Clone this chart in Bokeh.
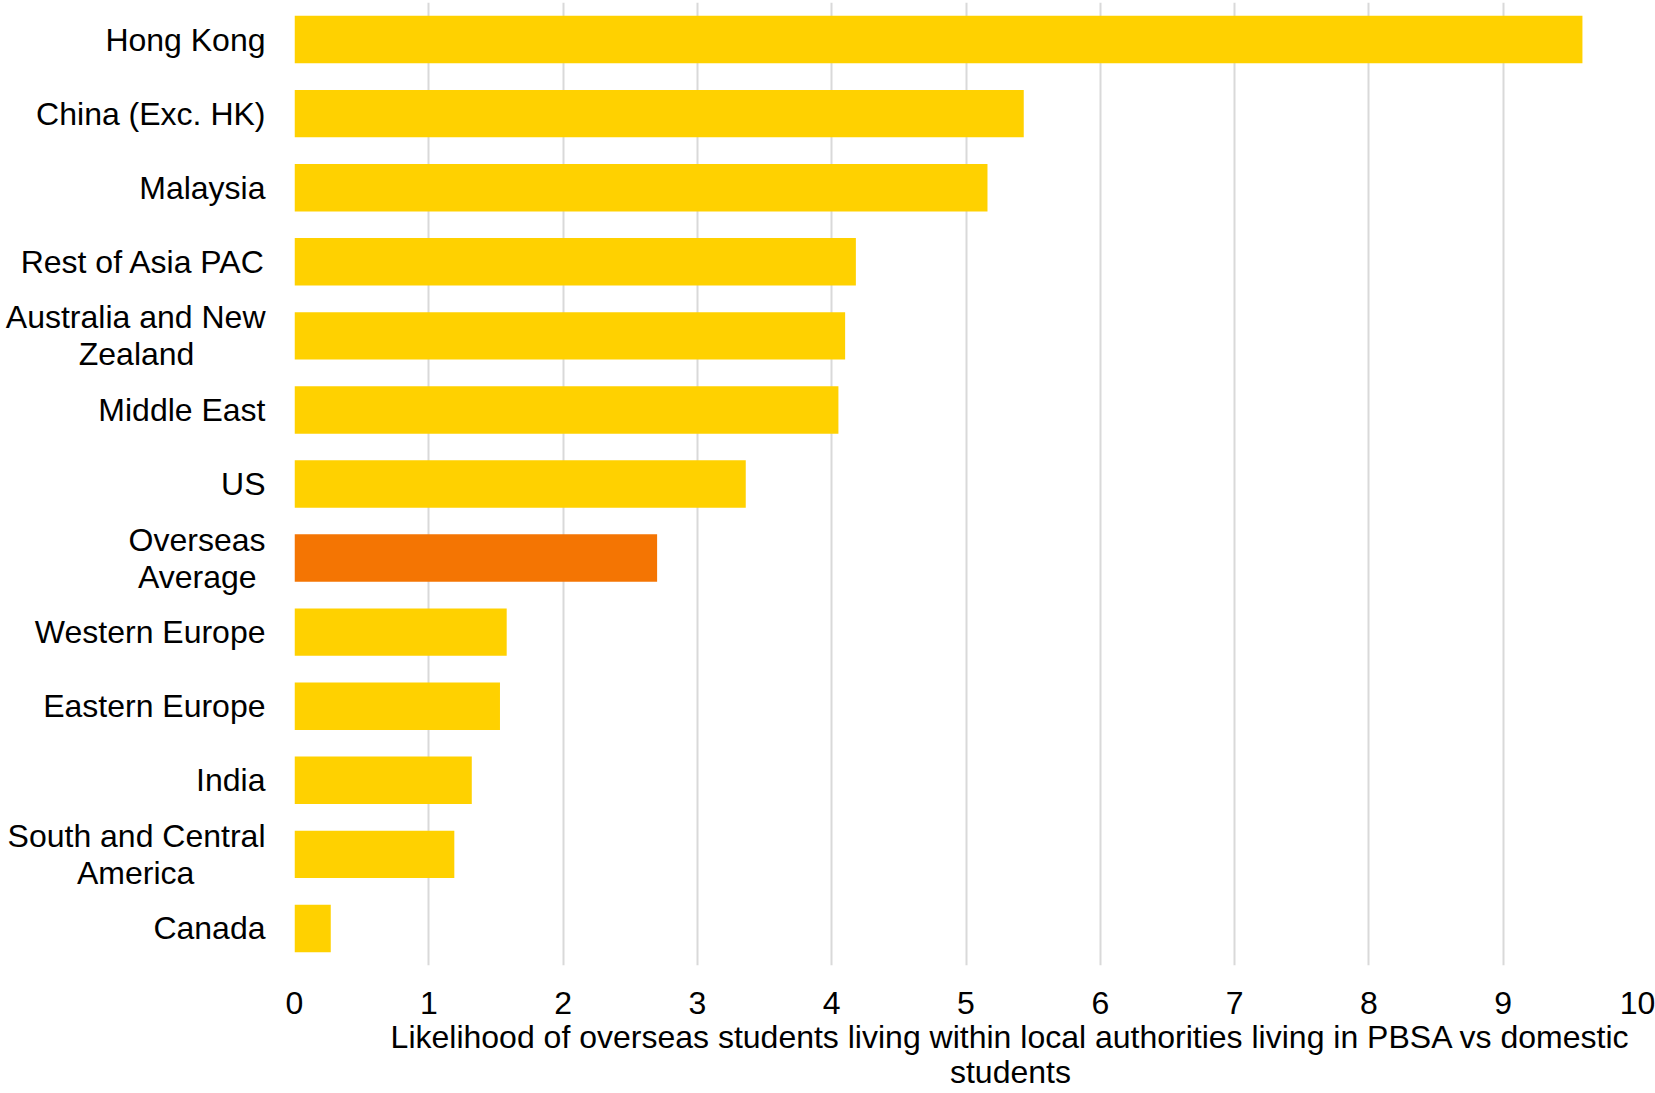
from bokeh.plotting import figure
from bokeh.models import ColumnDataSource, Range1d, FixedTicker
from bokeh.embed import file_html
from bokeh.resources import INLINE

# ---- data ----
categories = ["Hong Kong", "China (Exc. HK)", "Malaysia", "Rest of Asia PAC",
              "Australia and New\nZealand", "Middle East", "US", "Overseas\nAverage",
              "Western Europe", "Eastern Europe", "India", "South and Central\nAmerica", "Canada"]
values = [9.59, 5.43, 5.16, 4.18, 4.10, 4.05, 3.36, 2.70, 1.58, 1.53, 1.32, 1.19, 0.27]
highlight = "Overseas\nAverage"
x_ticks = [0, 1, 2, 3, 4, 5, 6, 7, 8, 9, 10]
x_title = "Likelihood of overseas students living within local authorities living in PBSA vs domestic\nstudents"

# ---- style ----
FONT = "Liberation Sans"
FSIZE = 32
FS = f"{FSIZE}px"
YELLOW = "#FFD100"
ORANGE = "#F47503"
GRID = "#D9D9D9"
NBSP = "\u00a0"
TITLE_SHIFT = 43  # px to the right of the frame centre

# Arial / Liberation Sans advance widths (per 1000 em)
W = dict(zip("abcdefghijklmnopqrstuvwxyz",
             [556, 556, 500, 556, 556, 278, 556, 556, 222, 222, 500, 222, 833,
              556, 556, 556, 556, 333, 500, 278, 556, 500, 722, 500, 500, 500]))
W.update(zip("ABCDEFGHIJKLMNOPQRSTUVWXYZ",
             [667, 667, 722, 722, 667, 611, 778, 722, 278, 500, 667, 556, 833,
              722, 778, 667, 778, 722, 667, 611, 722, 667, 944, 667, 667, 611]))
W.update({" ": 278, "(": 333, ")": 333, ".": 278, NBSP: 278})
W_NBSP = 278 * FSIZE / 1000.0


def text_width(s):
    return sum(W.get(c, 556) for c in s) * FSIZE / 1000.0


def centre_lines(label):
    """Right-aligned axis labels: pad shorter lines so lines look centred."""
    lines = label.split("\n")
    if len(lines) == 1:
        return label
    wmax = max(text_width(l) for l in lines)
    out = []
    for l in lines:
        k = int(round((wmax - text_width(l)) / (2 * W_NBSP)))
        out.append(l + NBSP * k)
    return "\n".join(out)


n = len(categories)
ys = list(range(n))
colors = [ORANGE if c == highlight else YELLOW for c in categories]

src = ColumnDataSource(dict(y=ys, value=values, color=colors))

p = figure(width=1655, height=1093, x_range=Range1d(0, 10), y_range=Range1d(n - 0.5, -0.5),
           toolbar_location=None, output_backend="svg",
           min_border_left=294, min_border_right=18, min_border_top=2, min_border_bottom=128)
p.outline_line_color = None
p.background_fill_color = "white"
p.border_fill_color = "white"

p.hbar(y="y", left=0, right="value", height=0.64, fill_color="color", line_color=None, source=src)

# x axis
ax = p.xaxis[0]
ax.ticker = FixedTicker(ticks=x_ticks)
ax.axis_line_color = None
ax.major_tick_line_color = None
ax.minor_tick_line_color = None
ax.major_tick_out = 0
ax.major_label_text_font = FONT
ax.major_label_text_font_size = FS
ax.major_label_text_color = "#000000"
ax.major_label_standoff = 26

k_title = int(round(2 * TITLE_SHIFT / W_NBSP))
ax.axis_label = "\n".join(NBSP * k_title + l for l in x_title.split("\n"))
ax.axis_label_text_font = FONT
ax.axis_label_text_font_size = FS
ax.axis_label_text_font_style = "normal"
ax.axis_label_text_color = "#000000"
ax.axis_label_text_line_height = 0.98
ax.axis_label_standoff = 2

# y axis with category labels
ay = p.yaxis[0]
ay.ticker = FixedTicker(ticks=ys)
ay.major_label_overrides = {y: centre_lines(c) for y, c in zip(ys, categories)}
ay.axis_line_color = None
ay.major_tick_line_color = None
ay.minor_tick_line_color = None
ay.major_tick_out = 0
ay.major_label_text_font = FONT
ay.major_label_text_font_size = FS
ay.major_label_text_color = "#000000"
ay.major_label_text_line_height = 1.03
ay.major_label_standoff = 29

p.xgrid.ticker = FixedTicker(ticks=x_ticks)
p.xgrid.grid_line_color = GRID
p.xgrid.grid_line_width = 2
p.ygrid.visible = False

open("out.html", "w").write(file_html(p, INLINE))
